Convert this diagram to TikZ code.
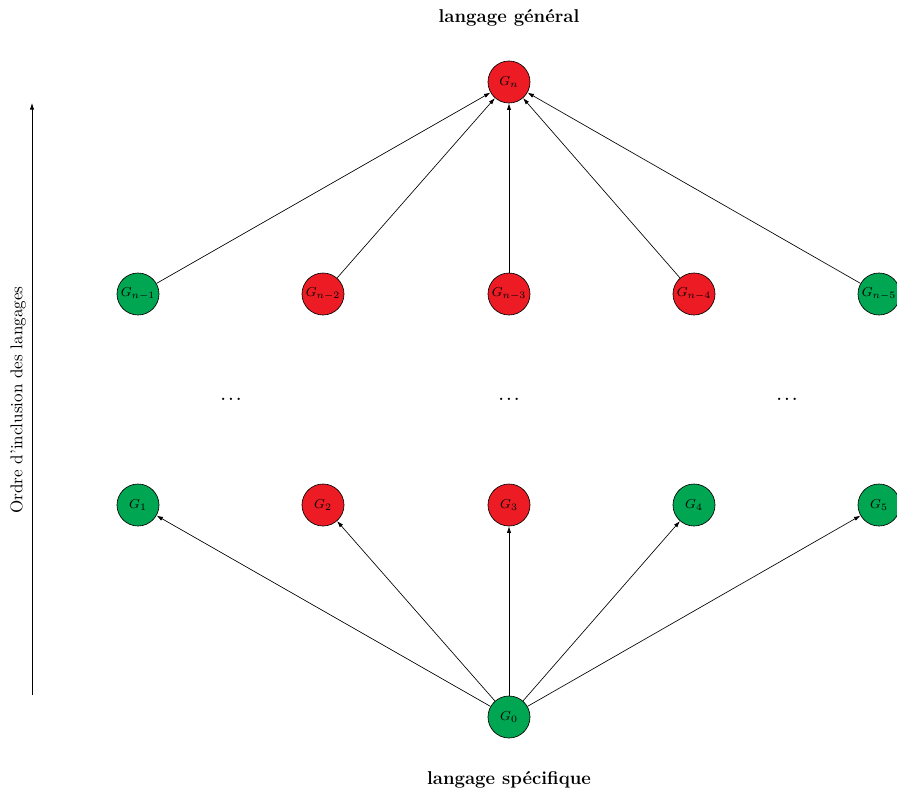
\documentclass[tikz,border=0pt]{standalone}
\usetikzlibrary{arrows.meta}
\definecolor{gr}{RGB}{0,166,81}
\definecolor{rd}{RGB}{237,28,36}
\begin{document}
\begin{tikzpicture}[x=0.6142pt,y=-0.6142pt,
  gnode/.style={circle,draw=black,fill=gr,minimum size=25.8pt,inner sep=0pt,font=\footnotesize},
  rnode/.style={circle,draw=black,fill=rd,minimum size=25.8pt,inner sep=0pt,font=\footnotesize},
  arr/.style={-{Latex[length=4pt,width=2.6pt]},line width=0.4pt},
  dotsnode/.style={font=\fontsize{9.5}{11}\selectfont\boldmath,inner sep=0pt},
  ttl/.style={font=\fontsize{11.4}{13}\selectfont\bfseries}]
\useasboundingbox (0,0) rectangle (897,793);
\node[ttl] (top) at (509,18) {langage général};
\node[ttl] (bot) at (509,780) {langage spécifique};
\node[rnode] (Gn) at (509,82) {$G_n$};
\node[gnode] (A1) at (138,294) {$G_{n-1}$};
\node[rnode] (A2) at (323,294) {$G_{n-2}$};
\node[rnode] (A3) at (509,294) {$G_{n-3}$};
\node[rnode] (A4) at (694,294) {$G_{n-4}$};
\node[gnode] (A5) at (879,294) {$G_{n-5}$};
\node[dotsnode] (d1) at (231,399) {$\ldots$};
\node[dotsnode] (d2) at (509,399) {$\ldots$};
\node[dotsnode] (d3) at (787,399) {$\ldots$};
\node[gnode] (B1) at (138,505) {$G_1$};
\node[rnode] (B2) at (323,505) {$G_2$};
\node[rnode] (B3) at (509,505) {$G_3$};
\node[gnode] (B4) at (694,505) {$G_4$};
\node[gnode] (B5) at (879,505) {$G_5$};
\node[gnode] (G0) at (509,717) {$G_0$};
\foreach \i in {1,...,5} {
  \draw[arr] (A\i) -- (Gn);
  \draw[arr] (G0) -- (B\i);
}
\coordinate (s0) at (32,695);
\coordinate (s1) at (32,103);
\draw[arr] (s0) -- (s1);
\node[rotate=90,font=\fontsize{10.5}{12}\selectfont] (lab) at (18,400) {Ordre d'inclusion des langages};
\end{tikzpicture}
\end{document}
